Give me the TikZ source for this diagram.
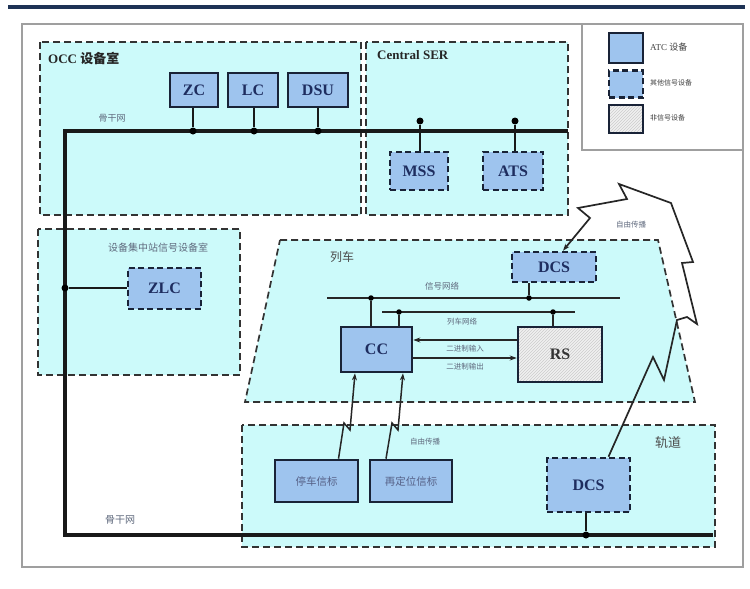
\documentclass[tikz,border=0pt]{standalone}
\usepackage{fontspec}
\setmainfont{Liberation Serif}
\newfontfamily\cjk{Noto Sans CJK SC}
\usetikzlibrary{patterns,arrows.meta}
\definecolor{regfill}{RGB}{204,250,250}
\definecolor{boxfill}{RGB}{158,196,238}
\definecolor{boxline}{RGB}{25,35,55}
\definecolor{navy}{RGB}{30,45,95}
\definecolor{lblcol}{RGB}{95,105,125}
\definecolor{topline}{RGB}{30,50,85}
\tikzset{
  region/.style={draw=black!80, line width=1.7pt, dash pattern=on 7pt off 4pt, fill=regfill},
  atcbox/.style={draw=boxline, line width=2.6pt, fill=boxfill, text=navy, font=\bfseries\fontsize{16}{16}\selectfont, inner sep=0pt},
  othbox/.style={atcbox, dash pattern=on 6pt off 3.5pt},
  nsbox/.style={draw=boxline, line width=2.6pt, preaction={fill=gray!12}, pattern=north east lines, pattern color=gray!40, text=black!80, font=\bfseries\fontsize{16}{16}\selectfont, inner sep=0pt},
  cjkbox/.style={atcbox, font=\cjk\fontsize{10.5}{10.5}\selectfont, text=navy!75},
  bus/.style={line width=1.6pt, draw=black!85},
  backbone/.style={line width=3.4pt, draw=black!90},
  dot/.style={circle, fill=black, inner sep=0pt, minimum size=7pt},
  lbl/.style={text=lblcol, font=\cjk\fontsize{8.5}{8.5}\selectfont, inner sep=1pt},
  biglbl/.style={text=black!70, font=\cjk\fontsize{12}{12}\selectfont, inner sep=1pt},
  conn/.style={line width=1.5pt, draw=black!85},
  stem/.style={line width=2.4pt, draw=black!90},
  arr/.style={conn, -{Stealth[length=7pt,width=5pt]}},
}
\begin{document}
\begin{tikzpicture}[x=1pt,y=1pt]
\useasboundingbox (0,0) rectangle (750,-589);
\fill[white] (0,0) rectangle (750,-589);
% top rule and frame
\draw[topline, line width=3.2pt] (8,-7) -- (745,-7);
\draw[gray!75, line width=1.4pt] (22,-24) rectangle (743,-567);
% legend
\draw[gray!75, line width=1.4pt] (582,-24) -- (582,-150) -- (743,-150);
\node[atcbox, minimum width=34pt, minimum height=30pt] (lg1) at (626,-48) {};
\node[othbox, minimum width=34pt, minimum height=27pt] (lg2) at (626,-84) {};
\node[nsbox, minimum width=34pt, minimum height=28pt] (lg3) at (626,-119) {};
\node[anchor=west, inner sep=0pt, text=black!75, font=\fontsize{9}{9}\selectfont] (lt1) at (650,-47) {ATC {\cjk 设备}};
\node[anchor=west, inner sep=0pt, text=black!75, font=\cjk\fontsize{7}{7}\selectfont] (lt2) at (650,-83) {其他信号设备};
\node[anchor=west, inner sep=0pt, text=black!75, font=\cjk\fontsize{7}{7}\selectfont] (lt3) at (650,-118) {非信号设备};
% regions
\path[region] (40,-42) rectangle (361,-215);
\path[region] (366,-42) rectangle (568,-215);
\path[region] (38,-229) rectangle (240,-375);
\path[region] (280,-240) -- (658,-240) -- (695,-402) -- (245,-402) -- cycle;
\path[region] (242,-425) rectangle (715,-547);
\node[anchor=west, inner sep=0pt, text=black!85, font=\bfseries\fontsize{13}{13}\selectfont] (occl) at (48,-58) {OCC {\cjk 设备室}};
\node[anchor=west, inner sep=0pt, text=black!85, font=\bfseries\fontsize{13}{13}\selectfont] (serl) at (377,-55) {Central SER};
\node[lbl, font=\cjk\fontsize{10}{10}\selectfont] (zlcl) at (158,-248) {设备集中站信号设备室};
\node[biglbl] (trainl) at (342,-257) {列车};
\node[biglbl, font=\cjk\fontsize{13}{13}\selectfont] (trackl) at (668,-443) {轨道};
% OCC devices
\node[atcbox, minimum width=48pt, minimum height=34pt] (zc) at (194,-90) {ZC};
\node[atcbox, minimum width=50pt, minimum height=34pt] (lc) at (253,-90) {LC};
\node[atcbox, minimum width=60pt, minimum height=34pt] (dsu) at (318,-90) {DSU};
\node[othbox, minimum width=58pt, minimum height=38pt] (mss) at (419,-171) {MSS};
\node[othbox, minimum width=60pt, minimum height=38pt] (ats) at (513,-171) {ATS};
\node[othbox, minimum width=73pt, minimum height=41pt] (zlc) at (164.5,-288.5) {ZLC};
% backbone
\coordinate (bbA) at (568,-131);
\coordinate (bbB) at (65,-131);
\coordinate (bbC) at (65,-535);
\coordinate (bbD) at (713,-535);
\draw[backbone] (bbA) -- (bbB) -- (bbC) -- (bbD);
\node[lbl, font=\cjk\fontsize{9}{9}\selectfont] (bbl1) at (112,-118) {骨干网};
\node[lbl, font=\cjk\fontsize{10}{10}\selectfont] (bbl2) at (120,-520) {骨干网};
\node[dot] (d1) at (193,-131) {};
\node[dot] (d2) at (254,-131) {};
\node[dot] (d3) at (318,-131) {};
\node[dot] (d4) at (420,-121) {};
\node[dot] (d5) at (515,-121) {};
\node[dot] (d6) at (65,-288) {};
\draw[stem] (zc.south -| d1) -- (d1);
\draw[stem] (lc.south -| d2) -- (d2);
\draw[stem] (dsu.south -| d3) -- (d3);
\draw[stem] (d4) -- (mss.north -| d4);
\draw[stem] (d5) -- (ats.north -| d5);
\draw[stem] (d6) -- (zlc.west |- d6);
% train
\node[othbox, minimum width=84pt, minimum height=30pt] (dcs) at (554,-267) {DCS};
\coordinate (snA) at (327,-298);
\coordinate (snB) at (620,-298);
\draw[bus] (snA) -- (snB);
\node[lbl] (snl) at (442,-286) {信号网络};
\coordinate (tnA) at (382,-312);
\coordinate (tnB) at (575,-312);
\draw[bus] (tnA) -- (tnB);
\node[lbl, font=\cjk\fontsize{7.5}{7.5}\selectfont] (tnl) at (462,-322) {列车网络};
\node[atcbox, minimum width=71pt, minimum height=45pt] (cc) at (376.5,-349.5) {CC};
\node[nsbox, minimum width=84pt, minimum height=55pt] (rs) at (560,-354.5) {RS};
\node[dot, minimum size=5.5pt] (d7) at (529,-298) {};
\node[dot, minimum size=5.5pt] (d8) at (371,-298) {};
\node[dot, minimum size=5.5pt] (d9) at (399,-312) {};
\node[dot, minimum size=5.5pt] (d10) at (553,-312) {};
\draw[conn, line width=1.8pt] (dcs.south -| d7) -- (d7);
\draw[conn, line width=1.8pt] (d8) -- (cc.north -| d8);
\draw[conn, line width=1.8pt] (d9) -- (cc.north -| d9);
\draw[conn, line width=1.8pt] (d10) -- (rs.north -| d10);
\draw[arr] (rs.west |- 0,-340) -- (cc.east |- 0,-340);
\draw[arr] (cc.east |- 0,-358) -- (rs.west |- 0,-358);
\node[lbl, font=\cjk\fontsize{7.5}{7.5}\selectfont] (inl) at (465,-349) {二进制输入};
\node[lbl, font=\cjk\fontsize{7.5}{7.5}\selectfont] (outl) at (465,-367) {二进制输出};
% track
\node[othbox, minimum width=83pt, minimum height=54pt] (tdcs) at (588.5,-485) {DCS};
\node[dot] (d11) at (586,-535) {};
\draw[stem] (tdcs.south -| d11) -- (d11);
\node[cjkbox, minimum width=83pt, minimum height=42pt] (b1) at (316.5,-481) {停车信标};
\node[cjkbox, minimum width=82pt, minimum height=42pt] (b2) at (411,-481) {再定位信标};
\node[lbl, font=\cjk\fontsize{7.5}{7.5}\selectfont] (fpl) at (425,-442) {自由传播};
% lightning links
\draw[arr] ([xshift=22pt]b1.north) -- (344,-423) -- (350,-430) -- ([xshift=-21.5pt]cc.south);
\draw[arr] ([xshift=-25pt]b2.north) -- (392,-423) -- (398,-430) -- ([xshift=26.5pt]cc.south);
% free propagation track DCS -> train DCS
\draw[arr, line width=1.7pt, line join=miter] ([xshift=20pt]tdcs.north) -- (653,-357) -- (664,-380) -- (677,-320)
  -- (687,-317) -- (697,-324) -- (682,-263) -- (693,-262) -- (671,-203)
  -- (619,-184) -- (627,-199) -- (578,-208) -- (590,-218) -- ([xshift=9pt]dcs.north);
\node[lbl, font=\cjk\fontsize{7.5}{7.5}\selectfont] (fpl2) at (631,-225) {自由传播};
\end{tikzpicture}
\end{document}
